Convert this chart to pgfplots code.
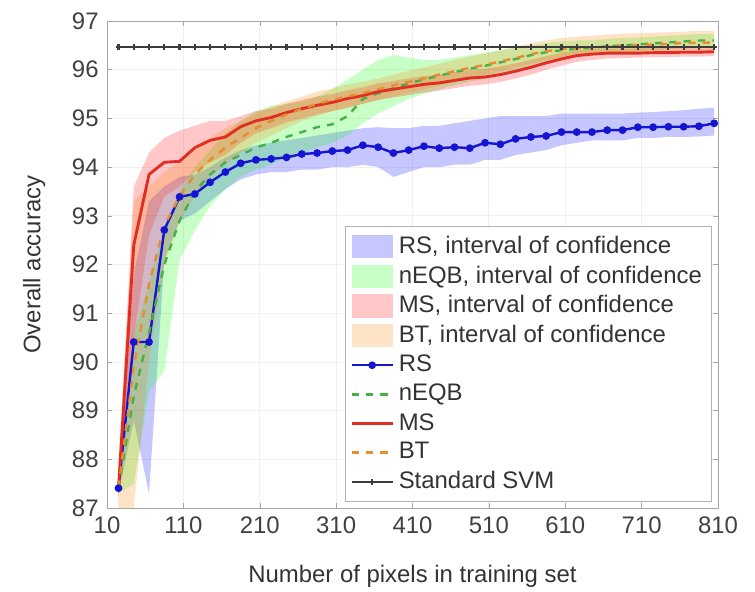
\documentclass[border=0pt]{standalone}
\usepackage{fontspec}
\setmainfont{Liberation Sans}
\usepackage{pgfplots}
\usepackage{pgfplotstable}
\pgfplotsset{compat=1.18}
\usepgfplotslibrary{fillbetween}

\definecolor{rsline}{RGB}{20,20,210}
\definecolor{neline}{RGB}{70,175,70}
\definecolor{msline}{RGB}{225,45,35}
\definecolor{btline}{RGB}{230,140,50}
\definecolor{svmline}{RGB}{60,60,60}

% x  RS(mean,lo,hi)  nEQB(mean,lo,hi)  MS(mean,lo,hi)  BT(mean,lo,hi)
\pgfplotstableread{
x   rs    rsl   rsu   ne    nel   neu   ms    msl   msu   bt    btl   btu
25  87.41 87.30 87.50 87.40 87.30 87.50 87.40 87.20 87.60 87.42 87.00 88.00
45  90.41 88.80 91.80 89.30 87.50 90.60 92.40 90.50 93.60 89.90 87.00 93.30
65  90.41 87.30 93.30 90.60 89.40 91.60 93.85 92.60 94.30 91.60 90.00 93.60
85  92.71 92.10 93.60 92.00 89.80 92.80 94.10 93.40 94.60 92.80 92.00 93.90
105 93.39 92.90 93.80 92.90 92.10 93.50 94.12 93.60 94.75 93.40 92.90 94.10
125 93.45 93.05 93.85 93.50 92.70 94.00 94.40 93.90 94.85 93.85 93.40 94.35
145 93.69 93.30 94.00 93.85 93.20 94.35 94.55 94.10 94.95 94.15 93.80 94.60
165 93.90 93.55 94.20 94.10 93.55 94.70 94.62 94.25 94.95 94.40 94.05 94.80
185 94.08 93.75 94.35 94.25 93.80 94.95 94.83 94.50 95.05 94.60 94.30 94.95
205 94.15 93.85 94.45 94.40 93.95 95.15 94.95 94.70 95.15 94.80 94.50 95.10
225 94.17 93.90 94.50 94.50 94.05 95.25 95.02 94.80 95.20 94.95 94.65 95.25
245 94.20 93.90 94.55 94.62 94.20 95.30 95.12 94.92 95.30 95.08 94.80 95.35
265 94.27 93.95 94.60 94.72 94.30 95.35 95.20 95.00 95.38 95.20 94.95 95.45
285 94.29 93.95 94.65 94.82 94.40 95.45 95.27 95.08 95.45 95.30 95.05 95.55
305 94.33 94.00 94.70 94.88 94.50 95.60 95.33 95.15 95.50 95.38 95.15 95.62
325 94.35 94.00 94.75 95.05 94.65 95.80 95.41 95.23 95.58 95.45 95.20 95.70
345 94.45 94.05 94.80 95.40 94.90 96.00 95.47 95.30 95.64 95.52 95.30 95.75
365 94.41 94.00 94.82 95.52 95.10 96.20 95.55 95.38 95.72 95.60 95.38 95.82
385 94.29 93.80 94.80 95.62 95.25 96.30 95.60 95.43 95.77 95.68 95.45 95.90
405 94.35 93.90 94.80 95.72 95.40 96.25 95.65 95.48 95.82 95.75 95.52 95.98
425 94.43 94.00 94.85 95.80 95.50 96.20 95.70 95.53 95.87 95.82 95.60 96.05
445 94.39 94.00 94.85 95.88 95.60 96.20 95.73 95.57 95.90 95.90 95.68 96.12
465 94.41 94.05 94.90 95.95 95.68 96.25 95.78 95.62 95.95 95.97 95.75 96.20
485 94.39 94.05 94.95 96.02 95.75 96.30 95.83 95.67 96.00 96.04 95.82 96.27
505 94.50 94.15 95.00 96.08 95.82 96.35 95.85 95.70 96.02 96.10 95.90 96.33
525 94.47 94.15 95.05 96.15 95.90 96.40 95.90 95.75 96.07 96.17 95.97 96.40
545 94.58 94.25 95.05 96.22 95.98 96.45 95.97 95.82 96.13 96.24 96.05 96.47
565 94.62 94.30 95.05 96.30 96.08 96.50 96.05 95.90 96.20 96.32 96.12 96.55
585 94.64 94.35 95.05 96.36 96.15 96.55 96.14 96.00 96.28 96.38 96.20 96.60
605 94.72 94.45 95.10 96.40 96.22 96.58 96.22 96.08 96.35 96.42 96.25 96.65
625 94.72 94.50 95.10 96.43 96.27 96.60 96.29 96.16 96.40 96.44 96.28 96.68
645 94.72 94.55 95.10 96.45 96.30 96.60 96.32 96.20 96.43 96.46 96.30 96.70
665 94.76 94.55 95.10 96.48 96.33 96.63 96.34 96.23 96.44 96.48 96.32 96.72
685 94.76 94.55 95.10 96.50 96.36 96.65 96.34 96.24 96.44 96.50 96.34 96.74
705 94.82 94.60 95.12 96.52 96.38 96.66 96.34 96.25 96.44 96.50 96.35 96.75
725 94.82 94.60 95.13 96.54 96.40 96.68 96.35 96.26 96.45 96.52 96.36 96.76
745 94.83 94.62 95.15 96.56 96.42 96.70 96.35 96.26 96.45 96.53 96.37 96.77
765 94.83 94.62 95.17 96.58 96.44 96.72 96.36 96.27 96.46 96.55 96.38 96.78
785 94.84 94.63 95.20 96.60 96.45 96.73 96.36 96.27 96.46 96.55 96.38 96.80
805 94.90 94.65 95.22 96.60 96.45 96.74 96.37 96.28 96.47 96.56 96.38 96.80
}\acc

\pgfplotstableread{
x   svm
25  96.47
45  96.47
65  96.47
85  96.47
105 96.47
125 96.47
145 96.47
165 96.47
185 96.47
205 96.47
225 96.47
245 96.47
265 96.47
285 96.47
305 96.47
325 96.47
345 96.47
365 96.47
385 96.47
405 96.47
425 96.47
445 96.47
465 96.47
485 96.47
505 96.47
525 96.47
545 96.47
565 96.47
585 96.47
605 96.47
625 96.47
645 96.47
665 96.47
685 96.47
705 96.47
725 96.47
745 96.47
765 96.47
785 96.47
805 96.47
}\svm

\begin{document}
\begin{tikzpicture}
\begin{axis}[
    scale only axis,
    width=8.98cm, height=7.16cm,
    xmin=10, xmax=810, ymin=87, ymax=97,
    xtick={10,110,...,810},
    ytick={87,88,...,97},
    /pgf/number format/assume math mode=true,
    tick label style={font=\normalsize, text=black!75},
    grid=major,
    grid style={gray!12},
    axis line style={gray!70},
    tick style={gray!70},
    major tick length=0.07cm,
    tick align=inside,
    xlabel={Number of pixels in training set},
    ylabel={Overall accuracy},
    label style={text=black!80},
    xlabel style={yshift=-0.22cm},
    ylabel style={yshift=0.15cm},
    legend cell align=left,
    legend style={at={(0.99,0.012)}, anchor=south east,
      draw=gray!60, font=\normalsize, text=black!80,
      inner xsep=2pt, inner ysep=2pt, row sep=-0.3pt},
  ]
  \addplot[draw=none, name path=rsl, forget plot] table[x=x, y=rsl] {\acc};
  \addplot[draw=none, name path=rsu, forget plot] table[x=x, y=rsu] {\acc};
  \addplot[draw=none, name path=nel, forget plot] table[x=x, y=nel] {\acc};
  \addplot[draw=none, name path=neu, forget plot] table[x=x, y=neu] {\acc};
  \addplot[draw=none, name path=msl, forget plot] table[x=x, y=msl] {\acc};
  \addplot[draw=none, name path=msu, forget plot] table[x=x, y=msu] {\acc};
  \addplot[draw=none, name path=btl, forget plot] table[x=x, y=btl] {\acc};
  \addplot[draw=none, name path=btu, forget plot] table[x=x, y=btu] {\acc};

  \addplot[fill=blue, fill opacity=0.22, draw=none, area legend,
    legend image code/.code={\fill[blue, fill opacity=0.22] (0cm,-0.17cm) rectangle (0.6cm,0.17cm);}]
    fill between[of=rsl and rsu];
  \addlegendentry{RS, interval of confidence}
  \addplot[fill=green, fill opacity=0.22, draw=none, area legend,
    legend image code/.code={\fill[green, fill opacity=0.22] (0cm,-0.17cm) rectangle (0.6cm,0.17cm);}]
    fill between[of=nel and neu];
  \addlegendentry{nEQB, interval of confidence}
  \addplot[fill=red, fill opacity=0.22, draw=none, area legend,
    legend image code/.code={\fill[red, fill opacity=0.22] (0cm,-0.17cm) rectangle (0.6cm,0.17cm);}]
    fill between[of=msl and msu];
  \addlegendentry{MS, interval of confidence}
  \addplot[fill=orange, fill opacity=0.22, draw=none, area legend,
    legend image code/.code={\fill[orange, fill opacity=0.22] (0cm,-0.17cm) rectangle (0.6cm,0.17cm);}]
    fill between[of=btl and btu];
  \addlegendentry{BT, interval of confidence}

  \addplot[rsline, line width=1pt, mark=*, mark size=1.1pt] table[x=x, y=rs] {\acc};
  \addlegendentry{RS}
  \addplot[neline, line width=1pt, dashed] table[x=x, y=ne] {\acc};
  \addlegendentry{nEQB}
  \addplot[msline, line width=1.2pt] table[x=x, y=ms] {\acc};
  \addlegendentry{MS}
  \addplot[btline, line width=1pt, dashed] table[x=x, y=bt] {\acc};
  \addlegendentry{BT}
  \addplot[svmline, line width=0.9pt, mark=+, mark size=1.2pt] table[x=x, y=svm] {\svm};
  \addlegendentry{Standard SVM}
\end{axis}
\pgfresetboundingbox
\path[use as bounding box] ([shift={(-1.573cm,-1.22cm)}]current axis.south west)
  rectangle ([shift={(0.544cm,0.309cm)}]current axis.north east);
\end{tikzpicture}
\end{document}
